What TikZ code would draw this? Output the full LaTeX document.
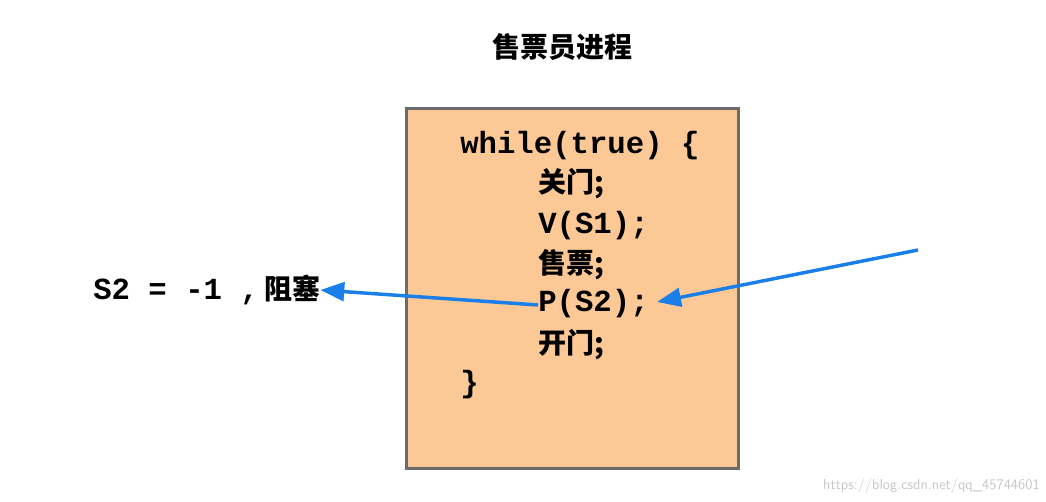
\documentclass[tikz,border=0pt]{standalone}
\usepackage{fontspec}
\setmonofont{Liberation Mono}
\newfontfamily\cjk{Noto Sans CJK SC}
\usetikzlibrary{arrows.meta}
\definecolor{peach}{HTML}{FCC896}
\definecolor{bord}{HTML}{6B6B6B}
\definecolor{arr}{HTML}{1A7FE8}
\tikzset{
 code/.style={anchor=west,inner sep=0pt,font=\fontsize{23}{23}\selectfont\ttfamily\bfseries},
 cj/.style={anchor=west,inner sep=0pt,font=\fontsize{21}{21}\selectfont\cjk\bfseries},
 blu/.style={draw=arr,line width=2.6pt,-{Triangle[length=18pt,width=14pt]}}
}
\begin{document}
\begin{tikzpicture}[x=0.75pt,y=-0.75pt]
\useasboundingbox (0,0) rectangle (1046,502);
\node[font=\fontsize{21}{21}\selectfont\cjk\bfseries] (t) at (562,47) {售票员进程};
\node[draw=bord,fill=peach,line width=2.4pt,minimum width=332*0.75pt,minimum height=360*0.75pt,anchor=north west,inner sep=0pt] (box) at (405,107) {};
\node[code] (l1) at (460,146) {while(true) \{};
\node[cj] (l2) at (538,184) {关门;};
\node[code] (l3) at (538,226) {V(S1);};
\node[cj] (l4) at (538,265) {售票;};
\node[code] (l5) at (538,304) {P(S2);};
\node[cj] (l6) at (538,345) {开门;};
\node[code] (l7) at (460,385) {\}};
\node[anchor=west,inner sep=0pt] (s2) at (93,290) {\fontsize{23}{23}\selectfont\ttfamily\bfseries S2 = -1 ,\,\fontsize{21}{21}\selectfont\cjk\bfseries 阻塞};
\coordinate (src) at (918,250);
\coordinate (p1) at (538,305);
\coordinate (p2) at (657,302);
\draw[blu] (p1) -- (s2.east);
\draw[blu] (src) -- (p2);
\node[anchor=east,inner sep=0pt,text=gray!45,font=\fontsize{11}{11}\selectfont\sffamily] (wm) at (1040,486) {https://blog.csdn.net/qq\_45744601};
\end{tikzpicture}
\end{document}
